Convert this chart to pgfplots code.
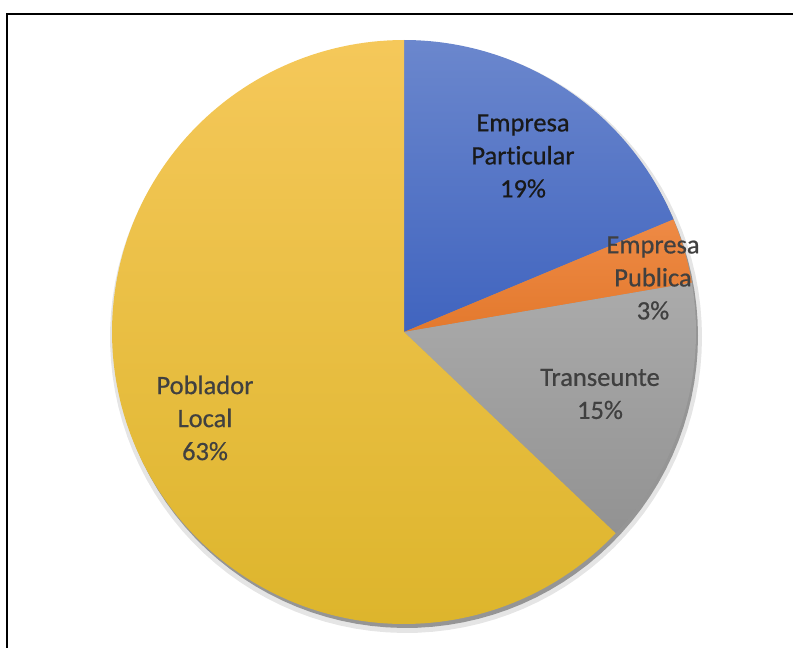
\documentclass[border=0pt]{standalone}
\usepackage{pgfplots}
\pgfplotsset{compat=1.18}
\usepackage{pgfplotstable}
\usepackage{fontspec}
\setmainfont{Carlito}[Ligatures=NoCommon]
\newfontfamily\lbl{Carlito}[Ligatures=NoCommon, FakeBold=0.6]

\definecolor{blueT}{HTML}{6B87CD}
\definecolor{blueB}{HTML}{4064BF}
\definecolor{orangeT}{HTML}{EE8A45}
\definecolor{orangeB}{HTML}{E3792D}
\definecolor{grayT}{HTML}{ABABAB}
\definecolor{grayB}{HTML}{929292}
\definecolor{yellowT}{HTML}{F5C85A}
\definecolor{yellowB}{HTML}{DDB52C}
\definecolor{txt}{HTML}{404040}

% share of each slice, in percent, clockwise from 12 o'clock
\pgfplotstableread{
label value
Particular 18.7
Publica 3.6
Transeunte 14.8
Poblador 62.9
}\piedata

\pgfplotstablegetelem{0}{value}\of\piedata \let\va\pgfplotsretval
\pgfplotstablegetelem{1}{value}\of\piedata \let\vb\pgfplotsretval
\pgfplotstablegetelem{2}{value}\of\piedata \let\vc\pgfplotsretval
\pgfplotstablegetelem{3}{value}\of\piedata \let\vd\pgfplotsretval

\pgfmathsetmacro\aA{90}
\pgfmathsetmacro\aB{\aA-3.6*\va}
\pgfmathsetmacro\aC{\aB-3.6*\vb}
\pgfmathsetmacro\aD{\aC-3.6*\vc}
\pgfmathsetmacro\aE{\aD-3.6*\vd}

\begin{document}
\begin{tikzpicture}
\begin{axis}[
    hide axis,
    scale only axis,
    width=793pt, height=648pt,
    xmin=0, xmax=793, ymin=0, ymax=648,
    clip=false,
    variable=\t,
]
% soft shadow
\addplot[draw=none, fill=black, fill opacity=0.10, domain=0:360, samples=120]
    ({406+296*cos(\t)},{311+296*sin(\t)}) -- cycle;
\addplot[draw=none, fill=black, fill opacity=0.35, domain=0:360, samples=120]
    ({406+292*cos(\t)},{312+292*sin(\t)}) -- cycle;

\addplot[draw=none, top color=blueT, bottom color=blueB, domain=\aB:\aA, samples=60]
    ({404+292*cos(\t)},{316+292*sin(\t)}) -- (axis cs:404,316) -- cycle;
\addplot[draw=none, top color=orangeT, bottom color=orangeB, domain=\aC:\aB, samples=20]
    ({404+292*cos(\t)},{316+292*sin(\t)}) -- (axis cs:404,316) -- cycle;
\addplot[draw=none, top color=grayT, bottom color=grayB, domain=\aD:\aC, samples=50]
    ({404+292*cos(\t)},{316+292*sin(\t)}) -- (axis cs:404,316) -- cycle;
\addplot[draw=none, top color=yellowT, bottom color=yellowB, domain=\aE:\aD, samples=150]
    ({404+292*cos(\t)},{316+292*sin(\t)}) -- (axis cs:404,316) -- cycle;

\begin{scope}[every node/.style={align=center, font=\lbl\fontsize{26.5}{33}\selectfont, text=txt}]
\node[text=black!90] at (axis cs:523,492) {Empresa\\Particular\\19\%};
\node at (axis cs:653,370) {Empresa\\Publica\\3\%};
\node at (axis cs:600,254) {Transeunte\\15\%};
\node at (axis cs:205,230) {Poblador\\Local\\63\%};
\end{scope}

\draw[line width=2.2pt, line cap=butt] (axis cs:6.7,0) -- (axis cs:6.7,634) -- (axis cs:793,634);
\end{axis}
\pgfresetboundingbox
\useasboundingbox (current axis.south west) rectangle (current axis.north east);
\end{tikzpicture}
\end{document}
